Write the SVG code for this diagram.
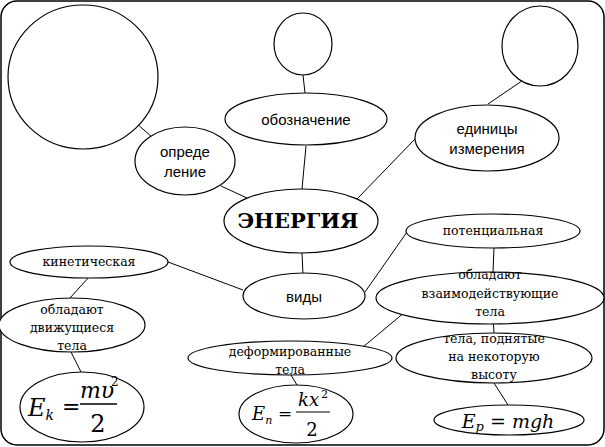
<svg xmlns="http://www.w3.org/2000/svg" width="605" height="447" viewBox="0 0 605 447">
<style>
.n{fill:#fff;stroke:#000;stroke-width:1.2}
.c line{stroke:#000;stroke-width:1}
.s{font-family:"Liberation Sans",Arial,sans-serif;font-size:15px;text-anchor:middle}
.t{font-family:"DejaVu Serif","Liberation Serif",serif;font-size:12.5px;text-anchor:middle}
.f{font-family:"DejaVu Serif","Liberation Serif",serif;font-style:italic}
.r{font-family:"DejaVu Serif","Liberation Serif",serif}
</style>
<rect x="1" y="1" width="603" height="444" rx="16" fill="#fff" stroke="#000" stroke-width="1.5"/>
<g class="c">
<line x1="136" y1="123" x2="152" y2="137"/>
<line x1="221" y1="186" x2="247" y2="198"/>
<line x1="303" y1="75" x2="305" y2="93"/>
<line x1="306" y1="146" x2="302" y2="189"/>
<line x1="415" y1="139" x2="357" y2="199"/>
<line x1="538" y1="70" x2="488" y2="104"/>
<line x1="302" y1="253" x2="303" y2="275"/>
<line x1="168" y1="262" x2="243" y2="290"/>
<line x1="365" y1="292" x2="407" y2="232"/>
<line x1="494" y1="248" x2="493" y2="272"/>
<line x1="89" y1="277" x2="70" y2="298"/>
<line x1="411" y1="307" x2="363" y2="347"/>
<line x1="493" y1="318" x2="494" y2="333"/>
<line x1="71" y1="352" x2="81" y2="372"/>
<line x1="291" y1="375" x2="297" y2="385"/>
<line x1="494" y1="383" x2="508" y2="405"/>
</g>
<g id="circle1"><ellipse class="n" cx="83" cy="77" rx="75" ry="72"/></g>
<g id="circle2"><ellipse class="n" cx="303" cy="44" rx="29" ry="31"/></g>
<g id="circle3"><ellipse class="n" cx="540" cy="46" rx="38" ry="40"/></g>
<g id="oboznachenie"><ellipse class="n" cx="306" cy="119" rx="81" ry="26"/><text class="s" x="306" y="125">обозначение</text></g>
<g id="opredelenie"><ellipse class="n" cx="185" cy="161" rx="50" ry="34"/><text class="s" x="185" y="157">опреде</text><text class="s" x="185" y="177">ление</text></g>
<g id="edinicy"><ellipse class="n" cx="487" cy="138" rx="72" ry="33"/><text class="s" x="487" y="134">единицы</text><text class="s" x="487" y="154">измерения</text></g>
<g id="energiya"><ellipse class="n" cx="301" cy="221" rx="77" ry="32"/><text class="r" x="298" y="228" font-weight="bold" font-size="21" text-anchor="middle">ЭНЕРГИЯ</text></g>
<g id="potencialnaya"><ellipse class="n" cx="493" cy="231" rx="87" ry="17"/><text class="t" x="493" y="235">потенциальная</text></g>
<g id="kineticheskaya"><ellipse class="n" cx="89" cy="262" rx="79" ry="16"/><text class="t" x="89" y="266">кинетическая</text></g>
<g id="vidy"><ellipse class="n" cx="304" cy="296" rx="61" ry="23"/><text class="s" x="304" y="302">виды</text></g>
<g id="vzaimodeistvuyushchie"><ellipse class="n" cx="490" cy="298" rx="114" ry="26"/><text class="t" x="490" y="279">обладают</text><text class="t" x="490" y="298">взаимодействующие</text><text class="t" x="490" y="316">тела</text></g>
<g id="dvizhushchiesya"><ellipse class="n" cx="72" cy="325" rx="73" ry="27"/><text class="t" x="72" y="314">обладают</text><text class="t" x="72" y="332">движущиеся</text><text class="t" x="72" y="350">тела</text></g>
<g id="deformirovannye"><ellipse class="n" cx="290" cy="358" rx="102" ry="17"/><text class="t" x="290" y="356">деформированные</text><text class="t" x="290" y="374">тела</text></g>
<g id="podnyatye"><ellipse class="n" cx="494" cy="358" rx="98" ry="25"/><text class="t" x="494" y="343">тела, поднятые</text><text class="t" x="494" y="361">на некоторую</text><text class="t" x="494" y="379">высоту</text></g>
<g id="Ek"><ellipse class="n" cx="82" cy="407" rx="62" ry="35"/>
<text class="f" x="28" y="416" font-size="24">E<tspan font-size="14" dy="4">k</tspan></text>
<text class="r" x="62" y="414" font-size="22">=</text>
<text class="f" x="80" y="398" font-size="22">mυ</text><text class="r" x="111" y="386" font-size="12">2</text>
<line x1="80" y1="404" x2="117" y2="404" stroke="#000" stroke-width="1.3"/>
<text class="r" x="98" y="432" font-size="24" text-anchor="middle">2</text></g>
<g id="En"><ellipse class="n" cx="296" cy="414" rx="57" ry="29"/>
<text class="f" x="252" y="420" font-size="18">E<tspan font-size="11" dy="4">n</tspan></text>
<text class="r" x="278" y="419" font-size="17">=</text>
<text class="f" x="298" y="406" font-size="18">kx</text><text class="r" x="321" y="398" font-size="11">2</text>
<line x1="296" y1="412" x2="330" y2="412" stroke="#000" stroke-width="1.1"/>
<text class="r" x="312" y="436" font-size="18" text-anchor="middle">2</text></g>
<g id="Ep"><ellipse class="n" cx="509" cy="420" rx="75" ry="15"/>
<text class="f" x="508" y="428" font-size="19" text-anchor="middle">E<tspan font-size="13" dy="3">p</tspan><tspan dy="-3"> = mgh</tspan></text></g>
</svg>
